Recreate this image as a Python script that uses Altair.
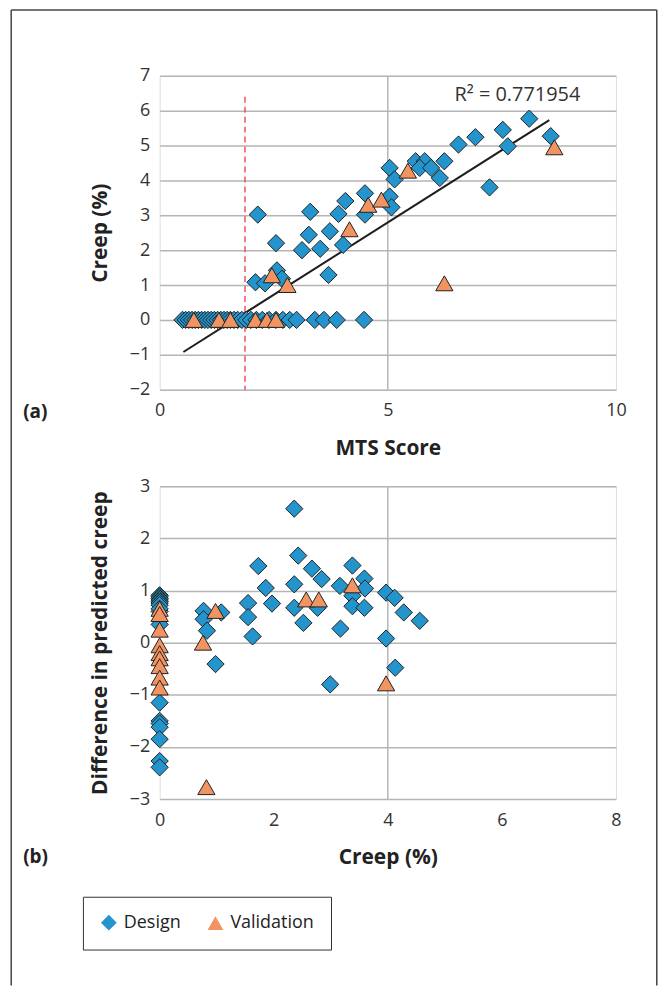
import altair as alt
import pandas as pd

# ---------------- Panel (a): creep vs MTS score ----------------
design_mts = [0.5, 0.57, 0.64, 0.71, 0.78, 0.85, 0.92, 0.99, 1.06, 1.13, 1.2, 1.27,
              1.34, 1.41, 1.48, 1.55, 1.63, 1.71, 1.8, 1.9, 2.0, 2.12, 2.25, 2.4,
              2.55, 2.7, 2.85, 3.0, 3.4, 3.6, 3.88, 4.48,
              2.15, 2.55, 2.1, 2.31, 2.57, 2.68, 3.12, 3.3, 3.27, 3.52, 3.73, 3.7,
              3.92, 4.07, 4.02, 4.5, 4.5, 5.04, 5.15, 5.04, 5.08, 5.61, 5.81, 5.7,
              5.95, 6.24, 6.14, 6.55, 6.92, 7.52, 7.63, 8.1, 8.57, 7.23]
design_creep = [0] * 32 + [
              3.02, 2.2, 1.08, 1.05, 1.42, 1.18, 2.0, 3.1, 2.44, 2.04, 2.54, 1.29,
              3.04, 3.41, 2.15, 3.63, 3.02, 4.36, 4.03, 3.54, 3.23, 4.55, 4.55, 4.36,
              4.36, 4.55, 4.07, 5.03, 5.24, 5.45, 4.98, 5.77, 5.27, 3.8]
valid_mts = [0.75, 1.3, 1.55, 2.1, 2.35, 2.55, 2.46, 2.8, 4.16, 4.57, 4.86, 5.44, 6.24, 8.65]
valid_creep = [0, 0, 0, 0, 0, 0, 1.28, 1.0, 2.6, 3.3, 3.45, 4.28, 1.05, 4.95]
trend_mts = [0.52, 8.54]
trend_creep = [-0.92, 5.73]
threshold_mts = [1.87]
threshold_top = [6.4]
threshold_bottom = [-2]
grid_x_a = [5]
r2_text = ["R\u00b2 = 0.771954"]

# ---------------- Panel (b): difference vs creep ----------------
design_creep_b = [0] * 17 + [
    0.77, 0.77, 0.83, 1.08, 0.98, 1.55, 1.55, 1.63, 1.73, 1.86, 1.97, 2.36,
    2.43, 2.36, 2.36, 2.52, 2.67, 2.84, 2.77, 3.16, 3.17, 2.99, 3.38, 3.59,
    3.6, 3.38, 3.38, 3.59, 3.97, 4.12, 4.28, 3.97, 4.13, 4.56]
design_diff = [0.91, 0.88, 0.85, 0.82, 0.79, 0.76, 0.72, 0.6, 0.35, -1.15, -1.5,
               -1.55, -1.62, -1.85, -2.27, -2.39, 0.65] + [
    0.61, 0.45, 0.23, 0.58, -0.41, 0.76, 0.49, 0.12, 1.47, 1.05, 0.75, 2.57,
    1.67, 1.12, 0.67, 0.38, 1.42, 1.22, 0.67, 1.09, 0.27, -0.8, 1.48, 1.23,
    1.04, 0.9, 0.7, 0.67, 0.96, 0.86, 0.58, 0.08, -0.48, 0.42]
valid_creep_b = [0, 0, 0, 0, 0, 0, 0, 0, 0, 0.98, 0.76, 0.82, 2.57, 2.79, 3.38, 3.97]
valid_diff = [0.65, 0.55, 0.25, -0.05, -0.2, -0.3, -0.45, -0.67, -0.86,
              0.61, 0.0, -2.77, 0.83, 0.83, 1.1, -0.78]
grid_x_b = [4]

series = ["Design", "Validation"]
fills = ["#2394CC", "#F29461"]
shapes = ["diamond", "triangle-up"]

FONT = "Open Sans"
GRID = "#b5b5b5"


def legend():
    return alt.Legend(title=None, orient="none", legendX=-77, legendY=824,
                      direction="horizontal", strokeColor="#333333", fillColor="white",
                      padding=17, symbolSize=250, symbolStrokeColor="#222222",
                      symbolStrokeWidth=1, symbolOpacity=1, labelFontSize=18,
                      labelFont=FONT, labelColor="#222222", columnPadding=24,
                      labelOffset=6)


def panel(px, py, vx, vy, lx, ly, gx, xdom, ydom, xvals, yvals, xtitle, ytitle, h):
    pts = pd.DataFrame({
        "x": px + vx,
        "y": py + vy,
        "series": ["Design"] * len(px) + ["Validation"] * len(vx),
    })
    X = alt.X("x:Q", scale=alt.Scale(domain=xdom, nice=False, zero=False),
              axis=alt.Axis(values=xvals, grid=False, ticks=False, tickSize=0, domain=False,
                            labelFlush=False, labelPadding=12, labelFontSize=18,
                            labelColor="#333333", labelFont=FONT, title=xtitle,
                            titleFont=FONT, titleFontSize=21, titleFontWeight="bold",
                            titleColor="#222222", titleX=229, titleY=65,
                            titleAlign="center", titleBaseline="alphabetic"))
    Y = alt.Y("y:Q", scale=alt.Scale(domain=ydom, nice=False, zero=False),
              axis=alt.Axis(values=yvals, grid=True, gridColor=GRID, gridWidth=1.5,
                            ticks=False, tickSize=0, domain=False, labelFlush=False,
                            labelPadding=10, labelFontSize=18, labelColor="#333333",
                            labelFont=FONT, title=ytitle, titleFont=FONT,
                            titleFontSize=21, titleFontWeight="bold",
                            titleColor="#222222", titleX=-53, titleY=h / 2,
                            titleAngle=-90, titleAlign="center",
                            titleBaseline="alphabetic"))
    vgrid = alt.Chart(pd.DataFrame({"x": gx})).mark_rule(
        color=GRID, strokeWidth=1.5).encode(x=X)
    points = alt.Chart(pts).mark_point(
        filled=True, size=300, opacity=1, stroke="#222222", strokeWidth=1
    ).encode(
        x=X, y=Y,
        fill=alt.Fill("series:N", scale=alt.Scale(domain=series, range=fills), legend=legend()),
        shape=alt.Shape("series:N", scale=alt.Scale(domain=series, range=shapes), legend=legend()),
    )
    label = alt.Chart(pd.DataFrame({"t": [lx]})).mark_text(
        font=FONT, fontSize=19, fontWeight="bold", align="left", baseline="middle",
        color="#222222"
    ).encode(text="t:N", x=alt.value(-137), y=alt.value(ly))
    return X, Y, vgrid, points, label


# ----- panel a -----
Xa, Ya, vgrid_a, pts_a, lab_a = panel(
    design_mts, design_creep, valid_mts, valid_creep, "(a)", 337, grid_x_a,
    [0, 10], [-2, 7], [0, 5, 10], list(range(-2, 8)), "MTS Score", "Creep (%)", 315)

thresh = alt.Chart(pd.DataFrame({"x": threshold_mts, "y": threshold_top,
                                 "y2": threshold_bottom})).mark_rule(
    color="#f0505c", strokeWidth=1.5, strokeDash=[6, 4]).encode(x=Xa, y=Ya, y2="y2:Q")
trend = alt.Chart(pd.DataFrame({"x": trend_mts, "y": trend_creep})).mark_line(
    color="#1e1e1e", strokeWidth=2).encode(x=Xa, y=Ya)
r2 = alt.Chart(pd.DataFrame({"t": r2_text})).mark_text(
    font=FONT, fontSize=20, align="left", baseline="middle", color="#333333"
).encode(text="t:N", x=alt.value(296), y=alt.value(19))

frame_style = dict(color="#444444", strokeWidth=1.5)
one = pd.DataFrame({"k": [0]})
frame_left = alt.Chart(one).mark_rule(**frame_style).encode(
    x=alt.value(-149), y=alt.value(-66), y2=alt.value(913))
frame_right = alt.Chart(one).mark_rule(**frame_style).encode(
    x=alt.value(499), y=alt.value(-66), y2=alt.value(913))
frame_top = alt.Chart(one).mark_rule(**frame_style).encode(
    x=alt.value(-149), x2=alt.value(499), y=alt.value(-66))

chart_a = alt.layer(vgrid_a, thresh, trend, pts_a, r2, lab_a,
                    frame_left, frame_right, frame_top).properties(width=458, height=315)

# ----- panel b -----
Xb, Yb, vgrid_b, pts_b, lab_b = panel(
    design_creep_b, design_diff, valid_creep_b, valid_diff, "(b)", 372, grid_x_b,
    [0, 8], [-3, 3], [0, 2, 4, 6, 8], list(range(-3, 4)), "Creep (%)",
    "Difference in predicted creep", 314)

chart_b = alt.layer(vgrid_b, pts_b, lab_b).properties(width=458, height=314)

chart = alt.vconcat(chart_a, chart_b, spacing=97, bounds="flush").properties(
    padding={"left": 9.25, "top": 6.25, "right": 6.25, "bottom": 0},
    background="white",
).configure_view(stroke="#3a3a3a", strokeWidth=1.5).configure(font=FONT)

chart.save("out.html", embed_options={"renderer": "svg", "actions": False})
